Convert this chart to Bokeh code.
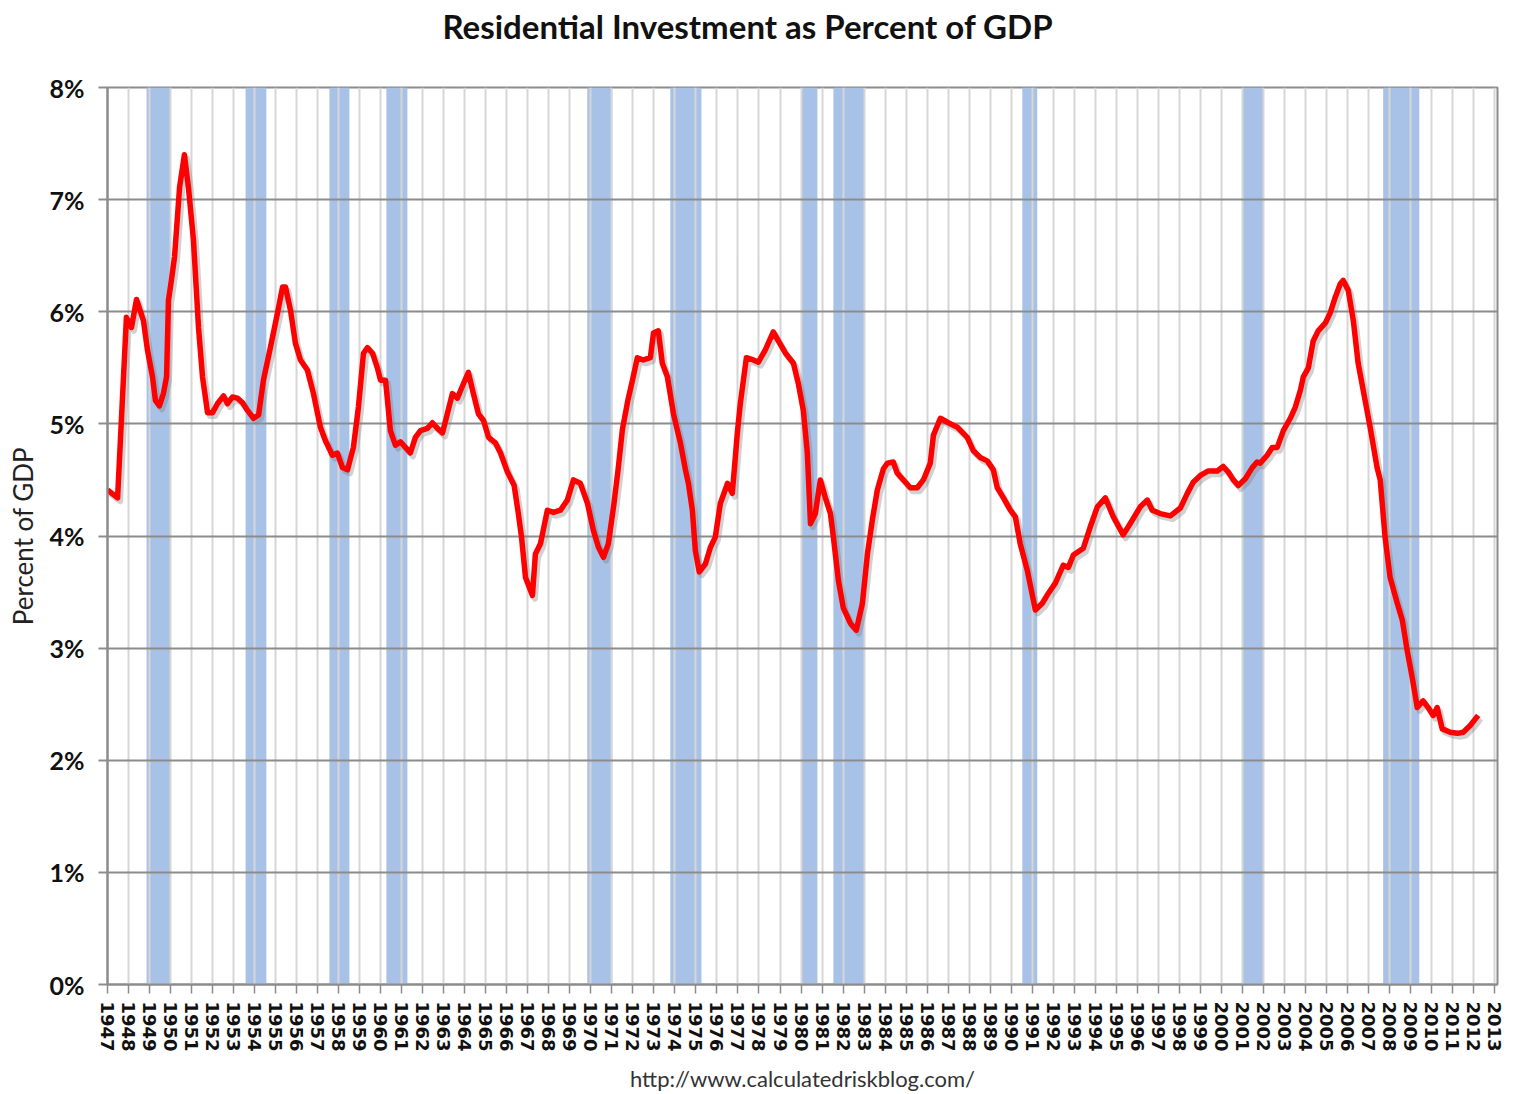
from bokeh.plotting import figure
from bokeh.models import Range1d, FixedTicker, PrintfTickFormatter, Title, ColumnDataSource
from bokeh.embed import file_html
from bokeh.resources import INLINE
from bokeh.transform import dodge

# ---- data (decimal year, % of GDP) ----
years = [
    1947.00, 1947.48, 1947.90, 1948.14, 1948.38, 1948.71, 1948.90, 1949.14, 1949.28, 1949.47,
    1949.66, 1949.81, 1949.90, 1950.04, 1950.19, 1950.43, 1950.66, 1950.85, 1951.09, 1951.33,
    1951.52, 1951.76, 1952.00, 1952.23, 1952.52, 1952.71, 1952.95, 1953.18, 1953.42, 1953.66,
    1953.95, 1954.19, 1954.42, 1954.75, 1955.09, 1955.33, 1955.47, 1955.71, 1955.94, 1956.18,
    1956.51, 1956.80, 1957.13, 1957.37, 1957.70, 1957.94, 1958.18, 1958.42, 1958.70, 1958.94,
    1959.18, 1959.37, 1959.61, 1959.84, 1959.99, 1960.23, 1960.46, 1960.70, 1960.94, 1961.18,
    1961.41, 1961.65, 1961.89, 1962.22, 1962.46, 1962.70, 1962.94, 1963.17, 1963.41, 1963.65,
    1963.94, 1964.17, 1964.41, 1964.65, 1964.89, 1965.13, 1965.46, 1965.70, 1966.03, 1966.35,
    1966.55, 1966.70, 1966.89, 1967.22, 1967.36, 1967.60, 1967.93, 1968.22, 1968.55, 1968.88,
    1969.17, 1969.50, 1969.84, 1970.12, 1970.36, 1970.60, 1970.83, 1971.10, 1971.30, 1971.50,
    1971.75, 1971.98, 1972.21, 1972.50, 1972.83, 1972.98, 1973.21, 1973.40, 1973.64, 1973.93,
    1974.26, 1974.50, 1974.64, 1974.83, 1974.97, 1975.16, 1975.45, 1975.69, 1975.92, 1976.16,
    1976.50, 1976.73, 1976.97, 1977.11, 1977.40, 1977.73, 1977.97, 1978.30, 1978.68, 1978.92,
    1979.26, 1979.64, 1979.87, 1980.11, 1980.30, 1980.45, 1980.68, 1980.92, 1981.16, 1981.40,
    1981.54, 1981.78, 1982.01, 1982.35, 1982.63, 1982.92, 1983.16, 1983.39, 1983.63, 1983.92,
    1984.11, 1984.39, 1984.58, 1984.87, 1985.20, 1985.53, 1985.82, 1986.15, 1986.30, 1986.63,
    1987.01, 1987.44, 1987.91, 1988.20, 1988.53, 1988.86, 1989.15, 1989.34, 1989.63, 1989.96,
    1990.20, 1990.43, 1990.77, 1991.15, 1991.48, 1991.77, 1992.10, 1992.48, 1992.72, 1992.96,
    1993.43, 1993.76, 1994.10, 1994.48, 1994.86, 1995.33, 1995.76, 1996.14, 1996.48, 1996.71,
    1997.09, 1997.57, 1998.05, 1998.38, 1998.66, 1999.00, 1999.38, 1999.81, 2000.09, 2000.33,
    2000.57, 2000.81, 2001.14, 2001.47, 2001.70, 2001.85, 2002.18, 2002.42, 2002.66, 2002.95,
    2003.28, 2003.52, 2003.76, 2003.90, 2004.14, 2004.37, 2004.61, 2004.95, 2005.18, 2005.42,
    2005.66, 2005.80, 2006.04, 2006.28, 2006.51, 2006.75, 2007.08, 2007.41, 2007.56, 2007.79,
    2008.03, 2008.37, 2008.61, 2008.84, 2009.08, 2009.32, 2009.60, 2009.84, 2010.08, 2010.27,
    2010.51, 2010.89, 2011.23, 2011.51, 2011.84, 2012.22,
]
ri_pct = [
    4.41, 4.34, 5.95, 5.86, 6.11, 5.92, 5.66, 5.42, 5.21, 5.16,
    5.27, 5.42, 6.10, 6.28, 6.49, 7.11, 7.40, 7.11, 6.64, 5.86,
    5.42, 5.10, 5.10, 5.18, 5.25, 5.18, 5.24, 5.23, 5.19, 5.12,
    5.05, 5.08, 5.39, 5.68, 5.99, 6.22, 6.22, 6.01, 5.72, 5.57,
    5.48, 5.27, 4.97, 4.85, 4.72, 4.74, 4.61, 4.59, 4.79, 5.15,
    5.63, 5.68, 5.63, 5.50, 5.39, 5.39, 4.94, 4.81, 4.84, 4.79,
    4.74, 4.88, 4.94, 4.96, 5.01, 4.96, 4.92, 5.09, 5.27, 5.23,
    5.36, 5.46, 5.27, 5.09, 5.03, 4.88, 4.83, 4.74, 4.57, 4.45,
    4.20, 3.99, 3.63, 3.47, 3.84, 3.93, 4.23, 4.21, 4.23, 4.32,
    4.50, 4.47, 4.29, 4.05, 3.90, 3.81, 3.93, 4.29, 4.60, 4.95,
    5.20, 5.39, 5.59, 5.57, 5.59, 5.81, 5.83, 5.54, 5.42, 5.09,
    4.83, 4.59, 4.47, 4.23, 3.87, 3.68, 3.75, 3.90, 3.99, 4.29,
    4.47, 4.38, 4.92, 5.18, 5.59, 5.57, 5.55, 5.66, 5.82, 5.74,
    5.63, 5.54, 5.36, 5.12, 4.74, 4.11, 4.20, 4.50, 4.34, 4.20,
    3.99, 3.60, 3.36, 3.22, 3.16, 3.40, 3.84, 4.14, 4.41, 4.60,
    4.65, 4.66, 4.56, 4.50, 4.43, 4.43, 4.50, 4.65, 4.90, 5.05,
    5.01, 4.97, 4.88, 4.76, 4.70, 4.67, 4.59, 4.43, 4.34, 4.23,
    4.17, 3.93, 3.69, 3.34, 3.40, 3.49, 3.58, 3.74, 3.72, 3.83,
    3.89, 4.08, 4.26, 4.34, 4.17, 4.01, 4.14, 4.26, 4.32, 4.23,
    4.20, 4.18, 4.25, 4.38, 4.48, 4.54, 4.58, 4.58, 4.62, 4.57,
    4.50, 4.45, 4.51, 4.61, 4.66, 4.65, 4.72, 4.79, 4.79, 4.94,
    5.05, 5.15, 5.30, 5.42, 5.50, 5.74, 5.83, 5.90, 5.99, 6.13,
    6.25, 6.28, 6.19, 5.92, 5.54, 5.30, 4.97, 4.61, 4.50, 3.99,
    3.63, 3.40, 3.25, 2.98, 2.74, 2.47, 2.53, 2.47, 2.40, 2.47,
    2.28, 2.25, 2.24, 2.25, 2.31, 2.40,
]

# recession shading (start / end, decimal years)
rec_start = [1948.86, 1953.57, 1957.56, 1960.27, 1969.83, 1973.78, 1980.00, 1981.54, 1990.53, 2001.00, 2007.70]
rec_end = [1950.00, 1954.56, 1958.51, 1961.27, 1971.02, 1975.26, 1980.78, 1983.00, 1991.24, 2002.00, 2009.42]

x_tick_years = list(range(1947, 2014))
y_ticks = list(range(0, 9))

title_text = "Residential Investment as Percent of GDP"
y_label = "Percent of GDP"
source_text = "http://www.calculatedriskblog.com/"

GRID_DARK = "#8c8c8c"
GRID_LIGHT = "#d6d6d6"

p = figure(
    frame_width=1390, frame_height=897,
    min_border_left=107, min_border_right=25, min_border_top=87, min_border_bottom=104,
    x_range=Range1d(1947, 2013.14), y_range=Range1d(0, 8),
    output_backend="svg", toolbar_location=None,
    background_fill_color="white", border_fill_color="white",
)
p.outline_line_color = GRID_DARK
p.outline_line_width = 2

# recession bars below the grid
p.quad(left=rec_start, right=rec_end, bottom=0, top=8,
       fill_color="#a7c2e6", line_color=None, level="image")

# grids
p.xgrid.ticker = FixedTicker(ticks=x_tick_years)
p.xgrid.grid_line_color = GRID_LIGHT
p.xgrid.grid_line_width = 2
p.ygrid.ticker = FixedTicker(ticks=y_ticks)
p.ygrid.grid_line_color = GRID_DARK
p.ygrid.grid_line_width = 2

# x axis
xa = p.xaxis[0]
xa.ticker = FixedTicker(ticks=x_tick_years)
xa.major_label_orientation = "vertical"
xa.major_label_text_font = "DejaVu Sans"
xa.major_label_text_font_style = "bold"
xa.major_label_text_font_size = "18px"
xa.major_label_text_color = "#111111"
xa.major_label_standoff = 8
xa.major_tick_out = 9
xa.major_tick_in = 0
xa.minor_tick_line_color = None
xa.axis_line_color = GRID_DARK
xa.axis_line_width = 2
xa.major_tick_line_color = GRID_DARK
xa.major_tick_line_width = 1.5

# y axis
ya = p.yaxis[0]
ya.ticker = FixedTicker(ticks=y_ticks)
ya.formatter = PrintfTickFormatter(format="%d%%")
ya.major_label_text_font = "Lato"
ya.major_label_text_font_style = "bold"
ya.major_label_text_font_size = "25px"
ya.major_label_text_color = "#111111"
ya.major_label_standoff = 14
ya.major_tick_out = 9
ya.major_tick_in = 0
ya.minor_tick_line_color = None
ya.axis_line_color = GRID_DARK
ya.axis_line_width = 2
ya.major_tick_line_color = GRID_DARK
ya.major_tick_line_width = 2
ya.axis_label = y_label
ya.axis_label_text_font = "Lato"
ya.axis_label_text_font_style = "normal"
ya.axis_label_text_font_size = "26px"
ya.axis_label_text_color = "#222222"
ya.axis_label_standoff = 8

# series: soft shadow + red line
src = ColumnDataSource(dict(x=years, y=ri_pct))
p.line(x=dodge("x", 0.12, range=p.x_range), y=dodge("y", -0.03, range=p.y_range),
       source=src, line_color="#7a7a7a", line_alpha=0.35, line_width=6, line_join="round")
p.line(x="x", y="y", source=src, line_color="#ff0000", line_width=5.5, line_join="round")

# title (above; a trailing empty line lifts it toward the top edge) and source note (below)
p.add_layout(Title(text=title_text + "\n", align="left", offset=335, standoff=4,
                   vertical_align="bottom", text_line_height=1.0,
                   text_font="Lato", text_font_style="bold", text_font_size="33px",
                   text_color="#111111"), "above")
p.add_layout(Title(text=source_text, align="center", standoff=16,
                   text_font="Lato", text_font_style="normal", text_font_size="22px",
                   text_color="#333333"), "below")

open("out.html", "w").write(file_html(p, INLINE))
